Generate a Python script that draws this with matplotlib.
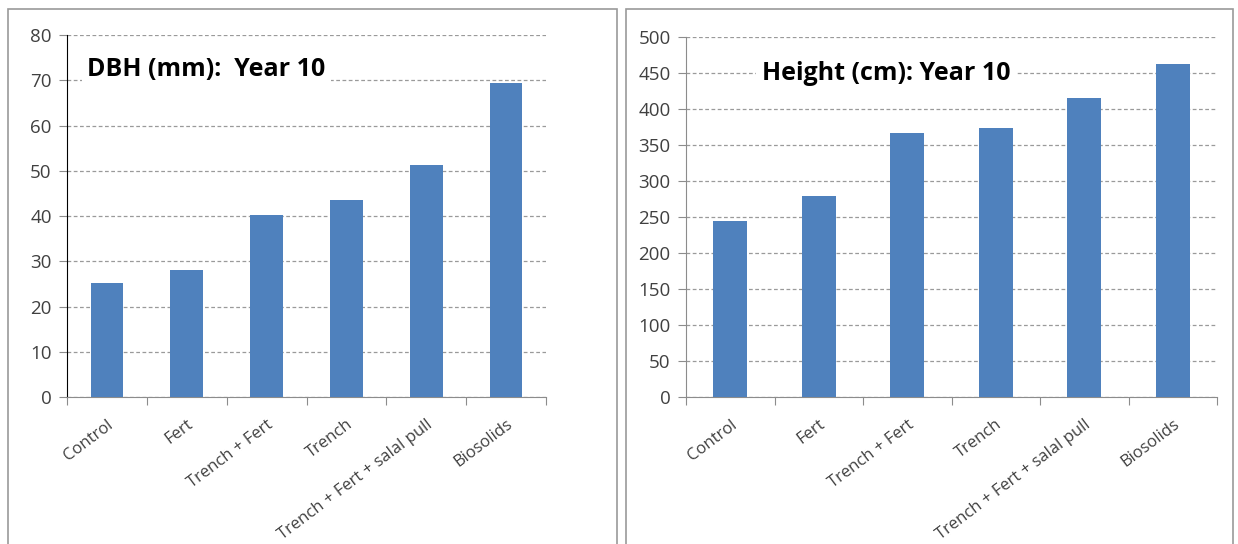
import matplotlib.pyplot as plt
from matplotlib.patches import Rectangle
import numpy as np

# Treatment means at year 10
treatments = ['Control', 'Fert', 'Trench + Fert', 'Trench', 'Trench + Fert + salal pull', 'Biosolids']
dbh_mm = [25.3, 28.1, 40.3, 43.5, 51.2, 69.4]
height_cm = [244, 279, 366, 373, 415, 463]

plt.rcParams['font.family'] = ['Open Sans', 'DejaVu Sans']

bar_color = '#4F81BD'
label_color = '#404040'
axis_grey = '#8c8c8c'

fig = plt.figure(figsize=(12.38, 5.44), dpi=100)

# grey frames around each chart
for x0, x1 in [(8, 617), (626, 1233)]:
    fig.patches.append(Rectangle((x0 / 1238, -0.01), (x1 - x0) / 1238, (544 - 9) / 544 + 0.01,
                                 transform=fig.transFigure, fill=False,
                                 edgecolor='#9a9a9a', linewidth=1.2))

ax1 = fig.add_axes([67 / 1238, (544 - 397) / 544, (546 - 67) / 1238, (397 - 35) / 544])
ax2 = fig.add_axes([686 / 1238, (544 - 397) / 544, (1217 - 686) / 1238, (397 - 37) / 544])


def draw_panel(ax, values, ymax, ystep, width, title, title_x, title_y, left_color):
    x = np.arange(len(values))
    ax.bar(x, values, width=width, color=bar_color, zorder=3)
    ax.set_xlim(-0.5, len(values) - 0.5)
    ax.set_ylim(0, ymax)
    ax.set_yticks(np.arange(0, ymax + 1, ystep))
    ax.yaxis.grid(True, linestyle=(0, (3, 2)), color='#9a9a9a', linewidth=0.9, zorder=0)
    ax.set_axisbelow(True)

    # category boundary ticks, labels centred under bars
    ax.set_xticks(np.arange(-0.5, len(values), 1.0))
    ax.set_xticklabels([])
    ax.set_xticks(x, minor=True)
    ax.set_xticklabels(treatments, minor=True, rotation=37, ha='right',
                       rotation_mode='anchor', fontsize=12, color=label_color)
    ax.tick_params(axis='x', which='minor', length=0, pad=14)
    ax.tick_params(axis='x', which='major', length=6, color=axis_grey, direction='out')
    ax.tick_params(axis='y', length=6, color=axis_grey, labelsize=13.5,
                   labelcolor=label_color, pad=5)
    for t in ax.get_xticklabels(minor=True):
        t.set_x(t.get_position()[0] + 0.17)

    for s in ['top', 'right']:
        ax.spines[s].set_visible(False)
    ax.spines['bottom'].set_color(axis_grey)
    ax.spines['left'].set_color(left_color)

    ax.text(title_x, title_y, title, transform=ax.transAxes, fontsize=18,
            fontweight='bold', color='black', va='center', ha='left', zorder=5,
            bbox=dict(facecolor='white', edgecolor='none', pad=4))


draw_panel(ax1, dbh_mm, 80, 10, 0.41, 'DBH (mm):  Year 10', 0.042, 0.905, '#000000')
draw_panel(ax2, height_cm, 500, 50, 0.38, 'Height (cm): Year 10', 0.143, 0.898, axis_grey)

fig.savefig('out.png', dpi=100)
